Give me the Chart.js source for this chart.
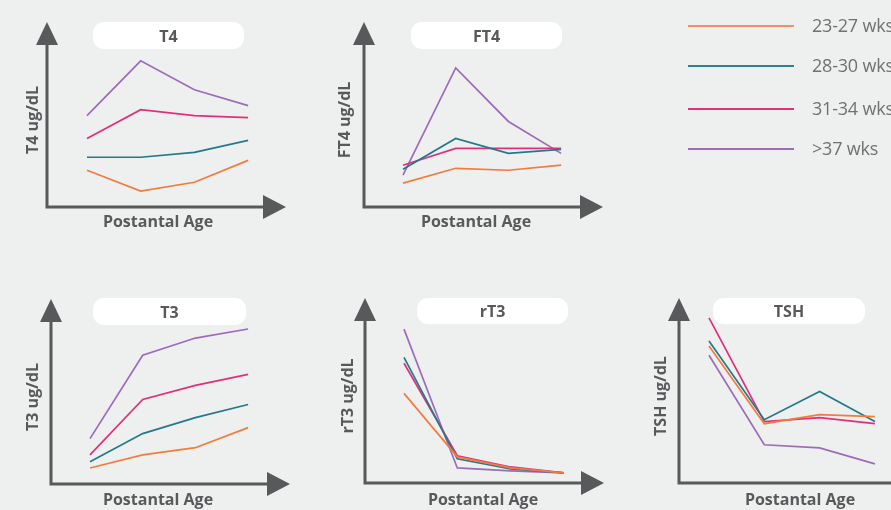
<!DOCTYPE html>
<html><head><meta charset="utf-8">
<script src="https://cdn.jsdelivr.net/npm/chart.js@4.4.0/dist/chart.umd.min.js"></script>
<style>
html,body{margin:0;padding:0;background:#eeefef;}
#stage{position:relative;width:891px;height:510px;overflow:hidden;background:#eeefef;font-family:"Open Sans",sans-serif;}
#stage canvas{position:absolute;}
.pill{position:absolute;background:#fff;border-radius:11px;color:#58595b;font-weight:700;font-size:16px;display:flex;align-items:center;justify-content:center;}
.legline{position:absolute;left:688px;width:106px;height:2px;}
.legtxt{position:absolute;left:812px;color:#707173;font-size:18px;letter-spacing:-0.2px;white-space:nowrap;line-height:24px;height:24px;}
</style></head>
<body><div id="stage"></div>
<script>
// ---- data (relative levels; the source has no numeric scale) ----
const postnatalAge = [1, 2, 3, 4];
const seriesNames = ['23-27 wks', '28-30 wks', '31-34 wks', '>37 wks'];
const panelTitles = ['T4', 'FT4', 'T3', 'rT3', 'TSH'];
const yAxisTitles = ['T4 ug/dL', 'FT4 ug/dL', 'T3 ug/dL', 'rT3 ug/dL', 'TSH ug/dL'];
const xAxisTitle = 'Postantal Age';

const t4_23_27 = [22.7, 9.8, 15.3, 28.8];
const t4_28_30 = [30.7, 30.7, 33.7, 41.1];
const t4_31_34 = [42.3, 60.1, 56.4, 55.2];
const t4_37 = [56.4, 90.2, 72.4, 62.6];

const ft4_23_27 = [14.7, 23.9, 22.7, 25.8];
const ft4_28_30 = [23.3, 42.3, 33.1, 35.6];
const ft4_31_34 = [25.8, 36.2, 36.2, 36.2];
const ft4_37 = [19.6, 85.9, 52.8, 33.1];

const t3_23_27 = [9.9, 18.0, 22.4, 34.8];
const t3_28_30 = [13.7, 31.1, 41.0, 49.1];
const t3_31_34 = [18.0, 52.2, 60.9, 67.7];
const t3_37 = [28.0, 79.5, 90.1, 95.7];

const rt3_23_27 = [55.3, 16.1, 9.3, 6.2];
const rt3_28_30 = [77.6, 14.9, 8.7, 6.2];
const rt3_31_34 = [73.9, 16.8, 9.9, 6.2];
const rt3_37 = [95.0, 9.3, 7.5, 6.2];

const tsh_23_27 = [84.5, 36.6, 42.2, 41.0];
const tsh_28_30 = [87.6, 39.1, 56.5, 37.9];
const tsh_31_34 = [101.9, 37.9, 40.4, 36.6];
const tsh_37 = [78.9, 23.6, 21.7, 11.8];

const panelSeries = [
  [t4_23_27, t4_28_30, t4_31_34, t4_37],
  [ft4_23_27, ft4_28_30, ft4_31_34, ft4_37],
  [t3_23_27, t3_28_30, t3_31_34, t3_37],
  [rt3_23_27, rt3_28_30, rt3_31_34, rt3_37],
  [tsh_23_27, tsh_28_30, tsh_31_34, tsh_37]
];

// ---- styles / layout ----
const seriesColors = ['#f37b3d', '#23798b', '#e0307b', '#9d6cb8'];
const legendColors = ['#f58e60', '#2a8296', '#e0307b', '#9d6cb8'];
const axisColor = '#58595b';
const TITLE_SIZE = 16;
const layouts = [
  {cx: 47, cy: 207, first: 40, step: 53.7, w: 222, dxT: 14, dyT: 15, pill: [93, 22, 151, 27]},
  {cx: 364, cy: 207, first: 39, step: 52.7, w: 224, dxT: 19, dyT: 15, pill: [411, 22, 151, 27]},
  {cx: 51, cy: 484, first: 39, step: 52.7, w: 214, dxT: 18, dyT: 16, pill: [93, 298, 153, 27]},
  {cx: 365, cy: 483, first: 39, step: 53.3, w: 236, dxT: 17, dyT: 17, pill: [417, 298, 151, 26]},
  {cx: 679, cy: 483, first: 30, step: 55.3, w: 242, dxT: 18, dyT: 17, pill: [713, 298, 152, 26]}
];
const CORNER_X = 48, CORNER_Y = 207, CHART_H = 174, UNIT_PX = 162;

const arrowAxes = {
  id: 'arrowAxes',
  beforeDatasetsDraw(chart) {
    const {ctx, chartArea: {left, bottom}} = chart;
    ctx.save();
    ctx.strokeStyle = axisColor; ctx.fillStyle = axisColor;
    ctx.lineWidth = 3; ctx.lineJoin = 'miter'; ctx.lineCap = 'butt';
    const yTop = bottom - 162, xEnd = left + 216;
    ctx.beginPath();
    ctx.moveTo(left, yTop); ctx.lineTo(left, bottom); ctx.lineTo(xEnd, bottom);
    ctx.stroke();
    ctx.beginPath();
    ctx.moveTo(left - 11, yTop); ctx.lineTo(left + 11, yTop); ctx.lineTo(left, yTop - 23);
    ctx.closePath(); ctx.fill();
    ctx.beginPath();
    ctx.moveTo(xEnd, bottom - 12); ctx.lineTo(xEnd, bottom + 12); ctx.lineTo(xEnd + 23, bottom);
    ctx.closePath(); ctx.fill();
    ctx.restore();
  }
};

const stage = document.getElementById('stage');
const halfLH = TITLE_SIZE * 1.2 / 2;
layouts.forEach((L, i) => {
  const cw = 300;
  const top = L.cy - CORNER_Y;
  const ch = Math.min(240, 510 - top);
  const cv = document.createElement('canvas');
  cv.width = cw; cv.height = ch;
  cv.style.left = (L.cx - CORNER_X) + 'px';
  cv.style.top = top + 'px';
  cv.style.width = cw + 'px'; cv.style.height = ch + 'px';
  stage.appendChild(cv);

  const pill = document.createElement('div');
  pill.className = 'pill';
  pill.style.left = L.pill[0] + 'px'; pill.style.top = L.pill[1] + 'px';
  pill.style.width = L.pill[2] + 'px'; pill.style.height = L.pill[3] + 'px';
  pill.textContent = panelTitles[i];
  stage.appendChild(pill);

  const xMin = postnatalAge[0] - L.first / L.step;
  const xMax = xMin + L.w / L.step;
  const xH = ch - CORNER_Y;
  new Chart(cv, {
    type: 'line',
    data: {
      datasets: panelSeries[i].map((vals, k) => ({
        label: seriesNames[k],
        data: postnatalAge.map((a, j) => ({x: a, y: vals[j]})),
        borderColor: seriesColors[k],
        borderWidth: 1.7,
        pointRadius: 0,
        tension: 0,
        fill: false
      }))
    },
    options: {
      responsive: false,
      animation: false,
      devicePixelRatio: 1,
      layout: {padding: {left: 0, top: CORNER_Y - CHART_H, right: cw - CORNER_X - L.w, bottom: 0}},
      plugins: {legend: {display: false}, tooltip: {enabled: false}},
      scales: {
        x: {
          type: 'linear', min: xMin, max: xMax,
          grid: {display: false}, border: {display: false}, ticks: {display: false},
          title: {display: true, text: xAxisTitle, color: axisColor,
                  font: {family: 'Open Sans', size: TITLE_SIZE, weight: 'bold'},
                  padding: {top: 0, bottom: ch - CORNER_Y - L.dyT - halfLH}},
          afterFit: s => { s.height = xH; }
        },
        y: {
          min: 0, max: CHART_H / UNIT_PX * 100,
          grid: {display: false}, border: {display: false}, ticks: {display: false},
          title: {display: true, text: yAxisTitles[i], color: axisColor,
                  font: {family: 'Open Sans', size: TITLE_SIZE, weight: 'bold'},
                  padding: {top: CORNER_X - L.dxT - halfLH, bottom: 0}},
          afterFit: s => { s.width = CORNER_X; }
        }
      }
    },
    plugins: [arrowAxes]
  });
});

// legend
const legendY = [26, 66, 109, 149];
seriesNames.forEach((name, k) => {
  const ln = document.createElement('div');
  ln.className = 'legline';
  ln.style.top = (legendY[k] - 1) + 'px';
  ln.style.background = legendColors[k];
  stage.appendChild(ln);
  const tx = document.createElement('div');
  tx.className = 'legtxt';
  tx.style.top = (legendY[k] - 13) + 'px';
  tx.textContent = name;
  stage.appendChild(tx);
});
</script>
</body></html>
